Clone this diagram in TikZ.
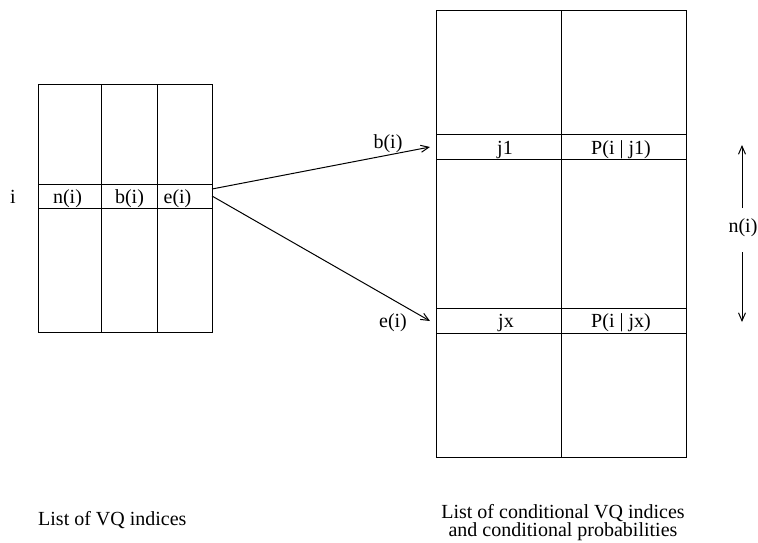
\documentclass[tikz,border=0pt]{standalone}
\usepackage{fontspec}
\setmainfont{Liberation Serif}
\usetikzlibrary{arrows.meta}
\begin{document}
\begin{tikzpicture}[x=1pt,y=-1pt,
  line/.style={line width=1pt},
  lbl/.style={font=\fontsize{20}{17}\selectfont, inner sep=0pt, anchor=base},
  arr/.style={line width=1pt,-{Straight Barb[length=8pt,width=7pt]}}]
\useasboundingbox (0,0) rectangle (758,542);
% left table
\draw[line] (38,84) rectangle (212,332);
\draw[line] (101,84) -- (101,332);
\draw[line] (157,84) -- (157,332);
\draw[line] (38,184) -- (212,184);
\draw[line] (38,208) -- (212,208);
\node[lbl] (ni) at (67.5,203) {n(i)};
\node[lbl] (bi) at (129.5,203) {b(i)};
\node[lbl] (ei) at (177.5,203) {e(i)};
\node[lbl] (i) at (13,203) {i};
\coordinate (src1) at (212,189);
\coordinate (src2) at (212,196);
% right table
\draw[line] (436,10) rectangle (686,457);
\draw[line] (561,10) -- (561,457);
\draw[line] (436,134) -- (686,134);
\draw[line] (436,159) -- (686,159);
\draw[line] (436,308) -- (686,308);
\draw[line] (436,333) -- (686,333);
\node[lbl] (j1) at (505,154) {j1};
\node[lbl] (pj1) at (621,154) {P(i | j1)};
\node[lbl] (jx) at (506,327) {jx};
\node[lbl] (pjx) at (621,327) {P(i | jx)};
\coordinate (dst1) at (430,147);
\coordinate (dst2) at (430,321);
\draw[arr] (src1) -- (dst1);
\draw[arr] (src2) -- (dst2);
\node[lbl] (blab) at (388,148) {b(i)};
\node[lbl] (elab) at (393,327) {e(i)};
% n(i) span
\node[lbl] (nlab) at (743,232) {n(i)};
\coordinate (ntop) at (742,145);
\coordinate (nbot) at (742,322);
\coordinate (nup) at (742,208);
\coordinate (ndown) at (742,252);
\draw[arr] (nup) -- (ntop);
\draw[arr] (ndown) -- (nbot);
% captions
\node[lbl, anchor=base west] (cap1) at (38,525) {List of VQ indices};
\node[lbl, anchor=center, align=center] (cap2) at (563,522.5) {List of conditional VQ indices\\and conditional probabilities};
\end{tikzpicture}
\end{document}
